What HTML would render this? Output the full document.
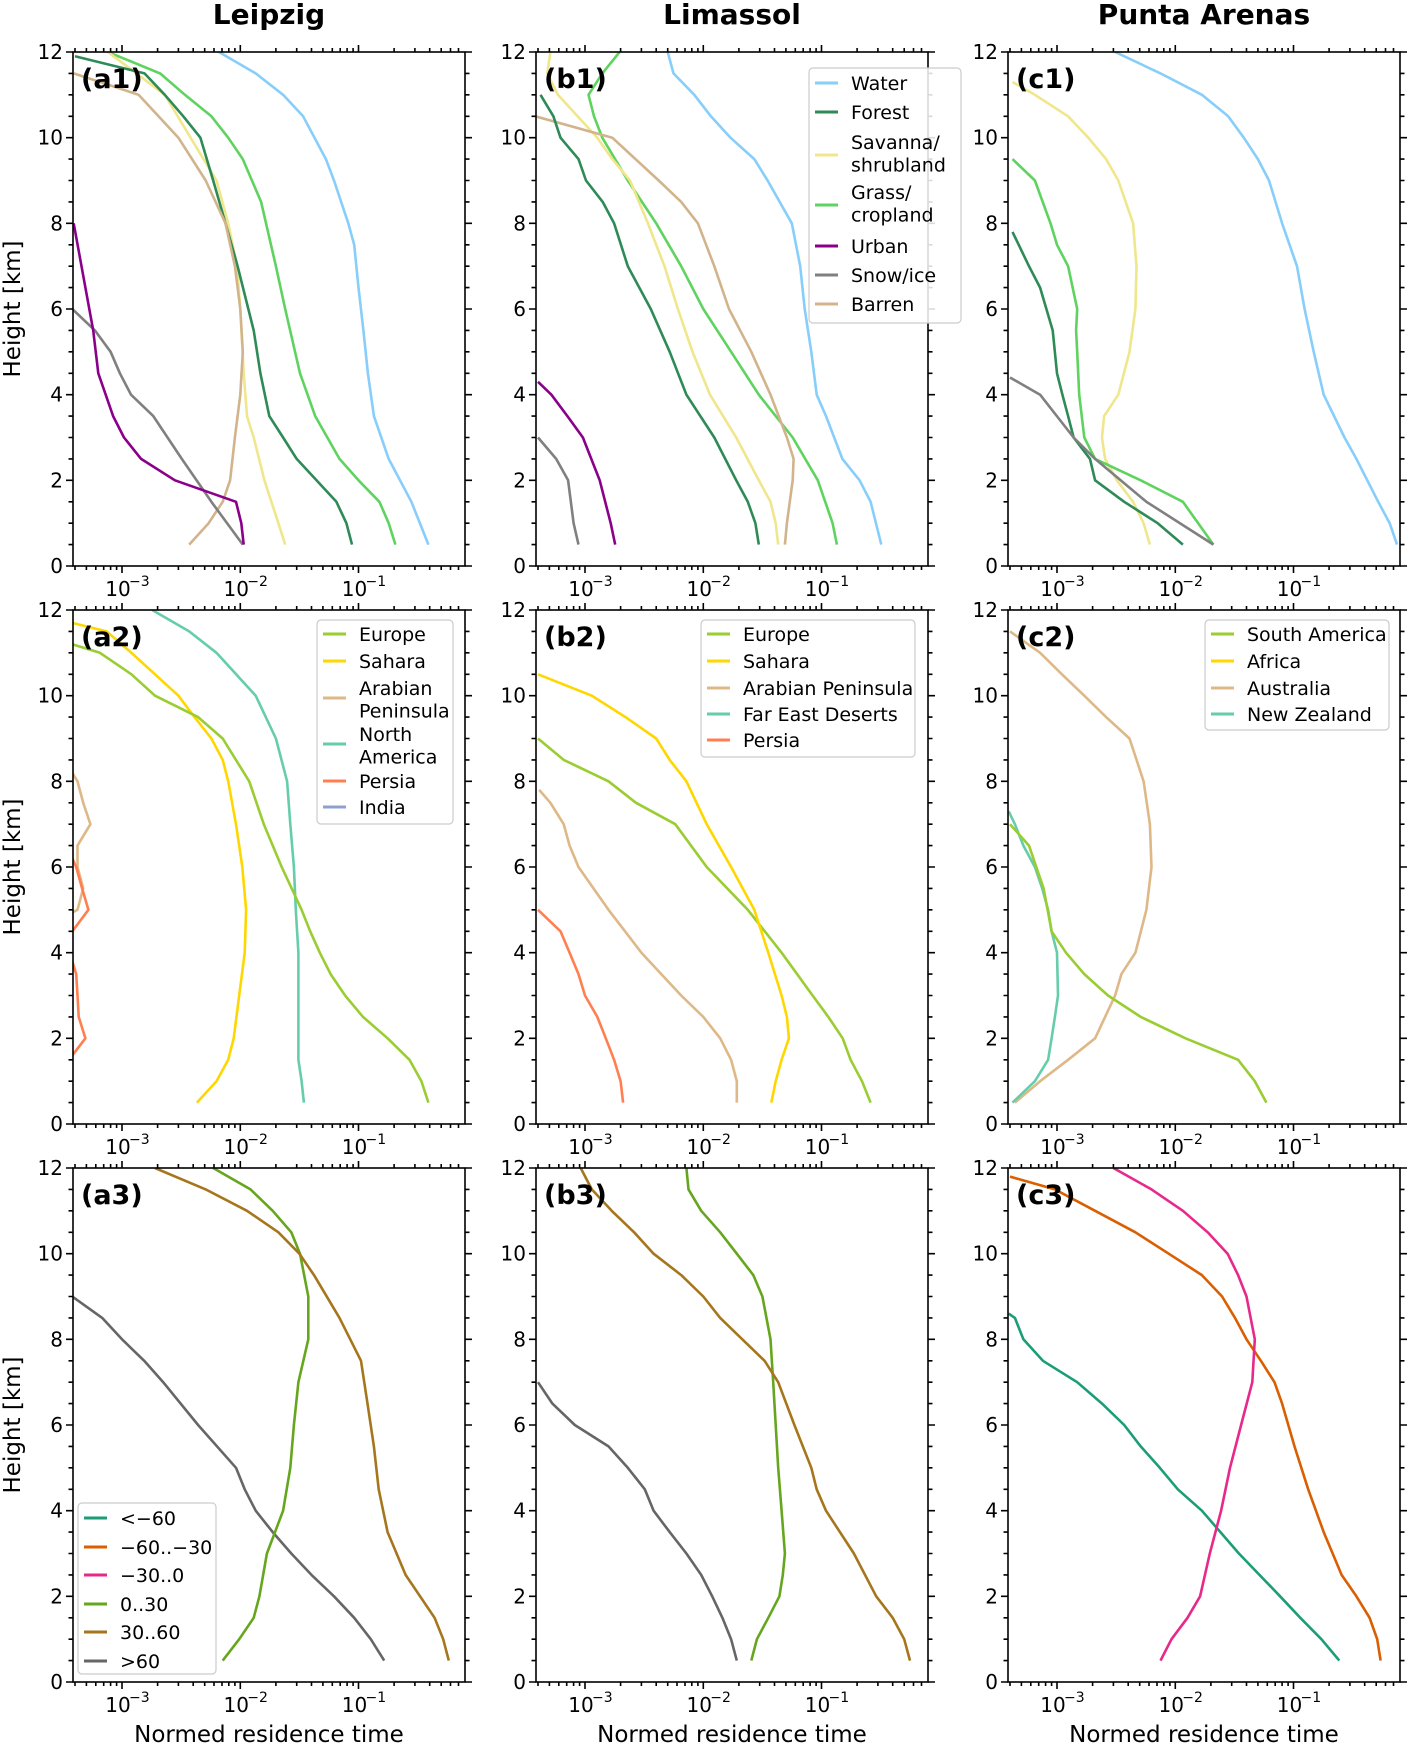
<!DOCTYPE html>
<html><head><meta charset="utf-8"><style>
body{margin:0;background:#fff}
svg{display:block;font-family:"DejaVu Sans","Liberation Sans",sans-serif}
</style></head><body>
<svg id="fig" width="1411" height="1746" viewBox="0 0 1411 1746" xmlns="http://www.w3.org/2000/svg"></svg>
<script>
// ---- data (heights in km, values = normed residence time) ----
const colTitles = ["Leipzig","Limassol","Punta Arenas"];
const xTickExps = [-3,-2,-1];
const yTickLabels = [0,2,4,6,8,10,12];

const a1Names = ["Water","Forest","Savanna/shrubland","Grass/cropland","Urban","Snow/ice","Barren"];
const a1WaterH = [0.5,1.5,2.5,3.5,4.5,5.5,6.5,7.5,8,9,9.5,10.5,11,11.5,12];
const a1WaterV = [0.39,0.28,0.18,0.135,0.12,0.11,0.10,0.092,0.082,0.062,0.053,0.034,0.023,0.0135,0.0066];
const a1ForestH = [0.5,1,1.5,2.5,3,3.5,4.5,5.5,7,8,9,10,10.5,11,11.5,11.9];
const a1ForestV = [0.088,0.079,0.065,0.030,0.023,0.0176,0.0148,0.013,0.0095,0.0075,0.0059,0.0046,0.0033,0.0023,0.00155,0.0004];
const a1GrassH = [0.5,1,1.5,2,2.5,3.5,4.5,6,7,8.5,9.5,10,10.5,11,11.5,12];
const a1GrassV = [0.205,0.18,0.15,0.10,0.069,0.043,0.032,0.024,0.020,0.015,0.0105,0.0079,0.0057,0.0034,0.0021,0.00076];
const a1SavH = [0.5,1,2,3,3.5,4.5,6,7,8,9,10,11,12];
const a1SavV = [0.024,0.021,0.016,0.013,0.0114,0.0107,0.010,0.0094,0.0079,0.0063,0.0038,0.0023,0.00076];
const a1BarH = [0.5,1,1.5,2,3,4,5,6,7,8,9,10,11,11.5];
const a1BarV = [0.0037,0.0054,0.0071,0.0082,0.0090,0.0100,0.0105,0.0100,0.0090,0.0075,0.0051,0.0030,0.00138,0.00039];
const a1UrbH = [0.5,1,1.5,2,2.5,3,3.5,4.5,5.5,6.5,8];
const a1UrbV = [0.0107,0.0102,0.0092,0.0028,0.00145,0.00104,0.00084,0.00063,0.00057,0.00049,0.00039];
const a1SnowH = [0.5,1.5,2.5,3.5,4,4.5,5,5.5,6];
const a1SnowV = [0.0105,0.0057,0.0032,0.00184,0.00119,0.00096,0.0008,0.00059,0.00038];

const b1WaterH = [0.5,1.5,2,2.5,3.5,4,5,6,7,8,9,9.5,10,10.5,11,11.5,12];
const b1WaterV = [0.32,0.26,0.21,0.15,0.109,0.091,0.082,0.072,0.066,0.056,0.035,0.027,0.017,0.0116,0.0084,0.0056,0.005];
const b1ForestH = [0.5,1,1.5,2,3,4,5,6,7,8,8.5,9,9.5,10,10.5,11];
const b1ForestV = [0.0295,0.0276,0.0238,0.019,0.0124,0.0072,0.0052,0.0036,0.0023,0.00176,0.00141,0.00102,0.00088,0.00062,0.00054,0.00042];
const b1GrassH = [0.5,1,2,3,4,5,6,7,8,9,10,10.5,11,11.5,12];
const b1GrassV = [0.135,0.124,0.093,0.057,0.0295,0.0172,0.010,0.0065,0.004,0.0023,0.0014,0.00119,0.00107,0.0014,0.00196];
const b1SavH = [0.5,1,1.5,2,3,4,5,6,7,8,9,9.5,10,11,11.5,12];
const b1SavV = [0.043,0.041,0.037,0.0295,0.019,0.0114,0.0081,0.0061,0.0047,0.0034,0.0024,0.0017,0.00127,0.00059,0.00048,0.00051];
const b1BarH = [0.5,1,2,2.5,3,4,5,6,7,8,8.5,9,10,10.5];
const b1BarV = [0.049,0.051,0.057,0.058,0.051,0.037,0.0255,0.0165,0.0124,0.009,0.0065,0.0042,0.0017,0.00038];
const b1UrbH = [0.5,1,2,3,3.5,4,4.3];
const b1UrbV = [0.0018,0.00165,0.00133,0.00096,0.00071,0.00052,0.0004];
const b1SnowH = [0.5,1,2,2.5,3];
const b1SnowV = [0.00088,0.0008,0.00072,0.00057,0.0004];

const c1WaterH = [0.5,1,1.5,2.5,3,4,5,6,7,8,9,9.5,10,10.5,11,11.5,12];
const c1WaterV = [0.75,0.65,0.52,0.34,0.27,0.18,0.148,0.124,0.107,0.08,0.062,0.050,0.038,0.028,0.0168,0.0075,0.0031];
const c1SavH = [0.5,1,1.5,2,2.5,3,3.5,4,5,6,7,8,9,9.5,10,10.5,11,11.3];
const c1SavV = [0.0061,0.0054,0.0044,0.0032,0.00255,0.0024,0.0025,0.0033,0.0041,0.0046,0.0047,0.0044,0.0033,0.0026,0.00184,0.00124,0.00065,0.00042];
const c1GrassH = [0.5,1.5,2,2.5,3,4,5,5.5,6,7,7.5,8,9,9.5];
const c1GrassV = [0.021,0.0116,0.0051,0.0021,0.0017,0.00154,0.00148,0.00145,0.00148,0.00124,0.001,0.00088,0.00065,0.00042];
const c1ForestH = [0.5,1,1.5,2,2.5,3,3.5,4,4.5,5.5,6.5,7,7.8];
const c1ForestV = [0.0116,0.0071,0.0037,0.0021,0.0019,0.00138,0.00124,0.00111,0.001,0.00092,0.00072,0.00058,0.00042];
const c1SnowH = [0.5,1.5,2.5,3,4,4.4];
const c1SnowV = [0.021,0.0057,0.0021,0.00138,0.00072,0.0004];

const a2Names = ["Europe","Sahara","Arabian Peninsula","North America","Persia","India"];
const a2EurH = [0.5,1,1.5,2,2.5,3,3.5,4,4.5,5,6,7,8,9,9.5,10,10.5,11,11.2];
const a2EurV = [0.39,0.34,0.27,0.176,0.109,0.077,0.058,0.047,0.039,0.033,0.0224,0.0158,0.0119,0.0071,0.0044,0.0019,0.0012,0.00065,0.00038];
const a2SahH = [0.5,1,1.5,2,3,4,5,6,7,8,8.5,9,9.5,10,10.5,11,11.5,11.7];
const a2SahV = [0.0043,0.0063,0.0079,0.0088,0.0098,0.0109,0.0112,0.0104,0.0092,0.0079,0.0071,0.0057,0.0041,0.003,0.0019,0.0012,0.00074,0.00038];
const a2NamH = [0.5,1,1.5,3,4,5,6,7,8,9,10,11,11.5,12];
const a2NamV = [0.0345,0.033,0.031,0.031,0.031,0.0295,0.0284,0.0265,0.0249,0.020,0.0135,0.0063,0.0037,0.0018];
const a2AraH = [4.8,5,5.5,6,6.5,7,7.5,8,8.2];
const a2AraV = [0.0003,0.00042,0.00047,0.00042,0.00042,0.00054,0.00047,0.00042,0.00038];
const a2PerH = [1.6,2,2.5,3,3.5,3.8,4.2,4.5,5,5.5,6,6.2];
const a2PerV = [0.00038,0.00049,0.00043,0.00042,0.00041,0.00038,0.0003,0.00038,0.00052,0.00046,0.00041,0.00038];

const b2Names = ["Europe","Sahara","Arabian Peninsula","Far East Deserts","Persia"];
const b2EurH = [0.5,1,1.5,2,2.5,3,4,5,6,7,7.5,8,8.5,9];
const b2EurV = [0.26,0.22,0.176,0.151,0.114,0.084,0.046,0.0238,0.0107,0.0058,0.0027,0.00158,0.00066,0.0004];
const b2SahH = [0.5,1,1.5,2,2.5,3,4,5,6,7,8,8.5,9,9.5,10,10.5];
const b2SahV = [0.0376,0.041,0.046,0.053,0.051,0.046,0.0355,0.027,0.0172,0.0107,0.0072,0.0052,0.004,0.0022,0.00114,0.0004];
const b2AraH = [0.5,1,1.5,2,2.5,3,4,5,6,6.5,7,7.5,7.8];
const b2AraV = [0.0192,0.0192,0.0172,0.0139,0.010,0.0065,0.003,0.00158,0.00088,0.00074,0.00066,0.00051,0.00041];
const b2PerH = [0.5,1,1.5,2,2.5,3,3.5,4,4.5,5];
const b2PerV = [0.0021,0.002,0.00176,0.0015,0.00127,0.001,0.00088,0.00074,0.00062,0.0004];

const c2Names = ["South America","Africa","Australia","New Zealand"];
const c2SamH = [0.5,1,1.5,2,2.5,3,3.5,4,4.5,5.5,6.5,7];
const c2SamV = [0.059,0.047,0.034,0.0122,0.0051,0.0027,0.0017,0.00119,0.0009,0.00077,0.00058,0.0004];
const c2AusH = [0.5,1,1.5,2,2.5,3,3.5,4,5,6,7,8,9,9.5,10,10.5,11,11.5];
const c2AusV = [0.00044,0.00072,0.00124,0.0021,0.00255,0.0031,0.0035,0.0046,0.0057,0.0063,0.0061,0.0054,0.0041,0.0026,0.0017,0.0011,0.00072,0.0004];
const c2NzH = [0.5,1,1.5,2,2.5,3,4,4.5,5,5.5,6,6.5,7,7.3];
const c2NzV = [0.00042,0.00065,0.00084,0.0009,0.00096,0.00102,0.001,0.0009,0.00084,0.00075,0.00065,0.00052,0.00044,0.00039];

const r3Names = ["<\u221260","\u221260..\u221230","\u221230..0","0..30","30..60",">60"];
const a3G030H = [0.5,1,1.5,2,3,4,5,6,7,8,9,10,10.5,11,11.5,12];
const a3G030V = [0.0071,0.0098,0.013,0.0145,0.0168,0.023,0.0265,0.0284,0.031,0.0376,0.0376,0.032,0.027,0.0188,0.0122,0.0059];
const a3G3060H = [0.5,1,1.5,2.5,3.5,4.5,5.5,6.5,7.5,8.5,9.5,10,10.5,11,11.5,12];
const a3G3060V = [0.58,0.52,0.44,0.25,0.176,0.148,0.135,0.119,0.105,0.069,0.042,0.0316,0.021,0.0114,0.0051,0.0019];
const a3G60H = [0.5,1,1.5,2,2.5,3,3.5,4,4.5,5,6,7,7.5,8,8.5,9];
const a3G60V = [0.165,0.127,0.092,0.062,0.040,0.027,0.0188,0.0135,0.0109,0.0092,0.0044,0.00223,0.00154,0.001,0.00068,0.00038];

const b3G030H = [0.5,1,1.5,2,2.5,3,4,5,6,7,8,9,9.5,10,10.5,11,11.5,12];
const b3G030V = [0.0255,0.0284,0.0355,0.044,0.047,0.049,0.046,0.043,0.041,0.039,0.037,0.0316,0.0265,0.0192,0.0139,0.0096,0.0075,0.0072];
const b3G3060H = [0.5,1,1.5,2,3,4,4.5,5,6,7,7.5,8,8.5,9,9.5,10,10.5,11,11.5,12];
const b3G3060V = [0.56,0.50,0.40,0.29,0.188,0.109,0.091,0.082,0.059,0.043,0.033,0.0214,0.0139,0.010,0.0065,0.0038,0.0026,0.00168,0.00114,0.00092];
const b3G60H = [0.5,1,1.5,2,2.5,3,3.5,4,4.5,5,5.5,6,6.5,7];
const b3G60V = [0.0192,0.0172,0.0145,0.0119,0.0096,0.0072,0.0052,0.0038,0.0032,0.0023,0.00158,0.00082,0.00053,0.0004];

const c3GpinkH = [0.5,1,1.5,2,3,4,5,6,7,8,9,9.5,10,10.5,11,11.5,12];
const c3GpinkV = [0.0075,0.0093,0.0127,0.0162,0.0196,0.0244,0.029,0.036,0.0448,0.047,0.040,0.034,0.0277,0.0188,0.0116,0.0063,0.003];
const c3GorH = [0.5,1,1.5,2,2.5,3.5,4.5,5.5,6.5,7,7.5,8,8.5,9,9.5,10,10.5,11,11.5,11.8];
const c3GorV = [0.545,0.51,0.44,0.34,0.255,0.18,0.133,0.102,0.08,0.069,0.053,0.040,0.032,0.0249,0.0168,0.0088,0.0046,0.0021,0.00096,0.0004];
const c3GtealH = [0.5,1,1.5,2,3,4,4.5,5,5.5,6,6.5,7,7.5,8,8.5,8.6];
const c3GtealV = [0.244,0.172,0.114,0.077,0.0345,0.0168,0.0105,0.0074,0.0051,0.0037,0.0024,0.00148,0.00076,0.00052,0.00044,0.00039];

// ---- colours ----
const C = {water:"#87cefa",forest:"#2e8b57",sav:"#f0e68c",grass:"#5fd35f",urban:"#8b008b",snow:"#808080",barren:"#d2b48c",
  eur:"#9acd32",sah:"#ffd700",ara:"#deb887",nam:"#66cdaa",per:"#ff7f50",ind:"#8fa0d0",
  d1:"#1b9e77",d2:"#d95f02",d3:"#e7298a",d4:"#66a61e",d5:"#a6761d",d6:"#666666"};

// ---- layout ----
const NS="http://www.w3.org/2000/svg";
const svg=document.getElementById('fig');
const colX=[73,536,1008], rowY=[52,610,1168], PW=392, PH=514;
const XMIN=Math.log10(3.85e-4), XMAX=Math.log10(0.795);
function mk(tag,attrs,parent){const e=document.createElementNS(NS,tag);for(const k in attrs)e.setAttribute(k,attrs[k]);(parent||svg).appendChild(e);return e;}
function xs(c,v){return colX[c]+(Math.log10(v)-XMIN)/(XMAX-XMIN)*PW;}
function ys(r,h){return rowY[r]+PH-h/12*PH;}

const defs=mk('defs',{});
const panels=[];
for(let r=0;r<3;r++)for(let c=0;c<3;c++){
  const cp=mk('clipPath',{id:'cp'+r+c},defs);
  mk('rect',{x:colX[c],y:rowY[r],width:PW,height:PH},cp);
  const g=mk('g',{});
  
  
  panels.push(g);
}
function P(r,c){return panels[r*3+c];}

function series(r,c,H,V,color,name){
  let d='';
  for(let i=0;i<H.length;i++){d+=(i?'L':'M')+xs(c,V[i]).toFixed(1)+','+ys(r,H[i]).toFixed(1);}
  const p=mk('path',{d:d,fill:'none',stroke:color,'stroke-width':2.6,'stroke-linejoin':'round','clip-path':'url(#cp'+r+c+')'},P(r,c));
  
  
}

function axes(r,c){
  const g=P(r,c), x0=colX[c], y0=rowY[r];
  let d='';
  for(let e=-4;e<=0;e++)for(let m=1;m<=9;m++){
    const v=m*Math.pow(10,e); const lv=Math.log10(v);
    if(lv<XMIN||lv>XMAX)continue;
    const x=xs(c,v).toFixed(1), L=m===1?7:4;
    d+=`M${x},${y0+PH}v${L}M${x},${y0}v${-L}`;
  }
  for(let h=0;h<=12;h+=0.5){
    const y=ys(r,h).toFixed(1), L=(h%2===0)?7:4.5;
    d+=`M${x0},${y}h${-L}M${x0+PW},${y}h${L}`;
  }
  const t=mk('path',{d:d,stroke:'#000','stroke-width':1.6,fill:'none'},g);
  
  
  const fr=mk('rect',{x:x0,y:y0,width:PW,height:PH,fill:'none',stroke:'#000','stroke-width':1.6},g);
  
  
  yTickLabels.forEach(h=>{
    const tx=mk('text',{x:x0-10,y:ys(r,h)+7,'text-anchor':'end','font-size':20},g);
    tx.textContent=h;
    
    
  });
  xTickExps.forEach(e=>{
    const x=xs(c,Math.pow(10,e));
    const tx=mk('text',{x:x-4,y:y0+PH+30,'text-anchor':'middle','font-size':20},g);
    tx.textContent='10';
    
    
    const sp=mk('text',{x:x+7,y:y0+PH+20,'font-size':14},g);
    sp.textContent='\u2212'+(-e);
    
    
  });
  const lb=mk('text',{x:x0+8,y:y0+36,'font-size':27,'font-weight':'bold'},g);
  lb.textContent='('+'abc'[c]+(r+1)+')';
  
  
}

function legend(r,c,x,y,w,h,entries){
  const g=mk('g',{},P(r,c));
  
  
  mk('rect',{x:x,y:y,width:w,height:h,rx:4,fill:'#fff','fill-opacity':0.85,stroke:'#ccc','stroke-width':1.2},g);
  entries.forEach(en=>{
    const ln=mk('line',{x1:x+6,x2:x+29,y1:en[2],y2:en[2],stroke:en[1],'stroke-width':3},g);
    
    
    const lines=en[0].split('|');
    lines.forEach((s,i)=>{
      const tx=mk('text',{x:x+42,y:en[3]+i*22.5,'font-size':19},g);
      tx.textContent=s;
      
      
    });
  });
}

// Row 1
series(0,0,a1WaterH,a1WaterV,C.water,'water');
series(0,0,a1GrassH,a1GrassV,C.grass,'grass');
series(0,0,a1SavH,a1SavV,C.sav,'savanna');
series(0,0,a1ForestH,a1ForestV,C.forest,'forest');
series(0,0,a1BarH,a1BarV,C.barren,'barren');
series(0,0,a1SnowH,a1SnowV,C.snow,'snow');
series(0,0,a1UrbH,a1UrbV,C.urban,'urban');
series(0,1,b1WaterH,b1WaterV,C.water,'water');
series(0,1,b1GrassH,b1GrassV,C.grass,'grass');
series(0,1,b1SavH,b1SavV,C.sav,'savanna');
series(0,1,b1BarH,b1BarV,C.barren,'barren');
series(0,1,b1ForestH,b1ForestV,C.forest,'forest');
series(0,1,b1UrbH,b1UrbV,C.urban,'urban');
series(0,1,b1SnowH,b1SnowV,C.snow,'snow');
series(0,2,c1WaterH,c1WaterV,C.water,'water');
series(0,2,c1SavH,c1SavV,C.sav,'savanna');
series(0,2,c1GrassH,c1GrassV,C.grass,'grass');
series(0,2,c1ForestH,c1ForestV,C.forest,'forest');
series(0,2,c1SnowH,c1SnowV,C.snow,'snow');
// Row 2
series(1,0,a2NamH,a2NamV,C.nam,'north-america');
series(1,0,a2SahH,a2SahV,C.sah,'sahara');
series(1,0,a2EurH,a2EurV,C.eur,'europe');
series(1,0,a2AraH,a2AraV,C.ara,'arabian-peninsula');
series(1,0,a2PerH,a2PerV,C.per,'persia');
series(1,1,b2EurH,b2EurV,C.eur,'europe');
series(1,1,b2SahH,b2SahV,C.sah,'sahara');
series(1,1,b2AraH,b2AraV,C.ara,'arabian-peninsula');
series(1,1,b2PerH,b2PerV,C.per,'persia');
series(1,2,c2AusH,c2AusV,C.ara,'australia');
series(1,2,c2NzH,c2NzV,C.nam,'new-zealand');
series(1,2,c2SamH,c2SamV,C.eur,'south-america');
// Row 3
series(2,0,a3G60H,a3G60V,C.d6,'gt60');
series(2,0,a3G030H,a3G030V,C.d4,'0-30');
series(2,0,a3G3060H,a3G3060V,C.d5,'30-60');
series(2,1,b3G60H,b3G60V,C.d6,'gt60');
series(2,1,b3G030H,b3G030V,C.d4,'0-30');
series(2,1,b3G3060H,b3G3060V,C.d5,'30-60');
series(2,2,c3GtealH,c3GtealV,C.d1,'lt-60');
series(2,2,c3GorH,c3GorV,C.d2,'60-30');
series(2,2,c3GpinkH,c3GpinkV,C.d3,'30-0');

for(let r=0;r<3;r++)for(let c=0;c<3;c++)axes(r,c);

legend(0,1,809,68,152,255,[
 [a1Names[0],C.water,83,90],[a1Names[1],C.forest,112,119],['Savanna/|shrubland',C.sav,155,149],
 ['Grass/|cropland',C.grass,205,199],[a1Names[4],C.urban,246,253],[a1Names[5],C.snow,275,282],[a1Names[6],C.barren,304,311]]);
legend(1,0,317,620,136,204,[
 [a2Names[0],C.eur,634,641],[a2Names[1],C.sah,661,668],['Arabian|Peninsula',C.ara,698,695],
 ['North|America',C.nam,744,741],[a2Names[4],C.per,781,788],[a2Names[5],C.ind,807,814]]);
legend(1,1,701,620,214,137,[
 [b2Names[0],C.eur,634,641],[b2Names[1],C.sah,661,668],[b2Names[2],C.ara,688,695],[b2Names[3],C.nam,714,721],[b2Names[4],C.per,740,747]]);
legend(1,2,1205,620,184,110,[
 [c2Names[0],C.eur,634,641],[c2Names[1],C.sah,661,668],[c2Names[2],C.ara,688,695],[c2Names[3],C.nam,714,721]]);
legend(2,0,78,1503,138,171,[
 [r3Names[0],C.d1,1518,1525],[r3Names[1],C.d2,1547,1554],[r3Names[2],C.d3,1575,1582],
 [' '+r3Names[3],C.d4,1604,1611],[' '+r3Names[4],C.d5,1632,1639],[' '+r3Names[5],C.d6,1661,1668]]);

colTitles.forEach((t,c)=>{
  const tx=mk('text',{x:colX[c]+PW/2,y:24,'text-anchor':'middle','font-size':28,'font-weight':'bold'});
  tx.textContent=t;
  
  
  const xt=mk('text',{x:colX[c]+PW/2,y:1742,'text-anchor':'middle','font-size':23});
  xt.textContent='Normed residence time';
  
  
});
rowY.forEach(y=>{
  const yt=mk('text',{x:0,y:0,'text-anchor':'middle','font-size':23,transform:`translate(20,${y+PH/2}) rotate(-90)`});
  yt.textContent='Height [km]';
  
  
});
</script>
</body></html>
